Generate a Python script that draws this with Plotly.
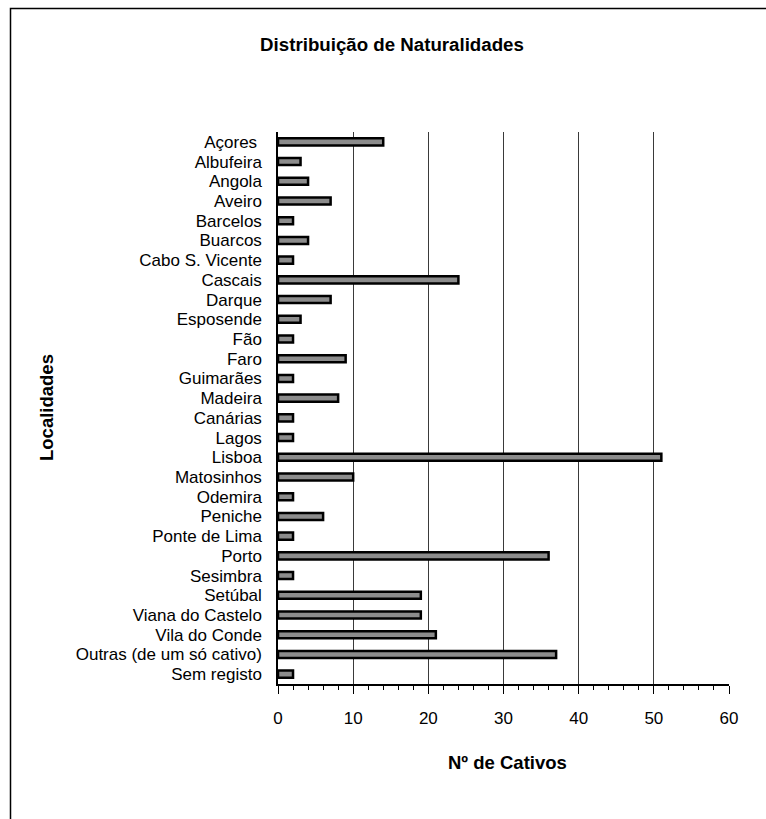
import plotly.graph_objects as go

# Naturalidades dos cativos
localidades = [
    "Açores\u00a0", "Albufeira", "Angola", "Aveiro", "Barcelos", "Buarcos",
    "Cabo S. Vicente", "Cascais", "Darque", "Esposende", "Fão", "Faro",
    "Guimarães", "Madeira", "Canárias", "Lagos", "Lisboa", "Matosinhos",
    "Odemira", "Peniche", "Ponte de Lima", "Porto", "Sesimbra", "Setúbal",
    "Viana do Castelo", "Vila do Conde", "Outras (de um só cativo)", "Sem registo",
]
cativos = [
    14, 3, 4, 7, 2, 4,
    2, 24, 7, 3, 2, 9,
    2, 8, 2, 2, 51, 10,
    2, 6, 2, 36, 2, 19,
    19, 21, 37, 2,
]
x_ticks = [0, 10, 20, 30, 40, 50, 60]

W, H = 766, 819
L, R, T, B = 278, 37, 132, 135
pw, ph = W - L - R, H - T - B

FONT = "Liberation Sans, Arial, sans-serif"

fig = go.Figure(
    go.Bar(
        x=cativos,
        y=localidades,
        orientation="h",
        width=0.36,
        marker=dict(color="#8c8c8c", line=dict(color="#000000", width=2.5)),
        hoverinfo="x+y",
    )
)

fig.update_layout(
    width=W,
    height=H,
    margin=dict(l=L, r=R, t=T, b=B, pad=0),
    paper_bgcolor="white",
    plot_bgcolor="white",
    showlegend=False,
    font=dict(family=FONT, color="#000000", size=16.5),
    title=dict(
        text="<b>Distribuição de Naturalidades</b>",
        x=392 / W,
        xanchor="center",
        xref="container",
        y=1 - 44 / H,
        yanchor="middle",
        yref="container",
        font=dict(family=FONT, size=18.7, color="#000000"),
    ),
    xaxis=dict(
        range=[0, 60],
        tickvals=x_ticks,
        ticktext=[str(v) for v in x_ticks],
        showgrid=True,
        gridcolor="#3a3a3a",
        gridwidth=1,
        zeroline=False,
        showline=True,
        linecolor="#000000",
        linewidth=1.5,
        ticks="outside",
        ticklen=8,
        tickwidth=1.2,
        tickcolor="#000000",
        ticklabelstandoff=10,
        tickfont=dict(family=FONT, size=17, color="#000000"),
        minor=dict(dtick=2, ticks="outside", ticklen=4, tickwidth=1, tickcolor="#000000", showgrid=False),
        fixedrange=True,
    ),
    yaxis=dict(
        type="category",
        categoryorder="array",
        categoryarray=localidades,
        autorange="reversed",
        tickmode="linear",
        tick0=0,
        dtick=1,
        showgrid=False,
        zeroline=False,
        showline=True,
        linecolor="#000000",
        linewidth=1.5,
        ticks="",
        ticklabelstandoff=11,
        tickfont=dict(family=FONT, size=17, color="#000000"),
        fixedrange=True,
    ),
)

# Axis titles
fig.add_annotation(
    text="<b>Nº de Cativos</b>",
    xref="paper", yref="paper",
    x=(507 - L) / pw, y=0,
    yshift=-(762 - (H - B)),
    xanchor="center", yanchor="middle",
    showarrow=False,
    font=dict(family=FONT, size=18.5, color="#000000"),
)
fig.add_annotation(
    text="<b>Localidades</b>",
    xref="paper", yref="paper",
    x=0, y=0.5,
    xshift=46 - L,
    textangle=-90,
    xanchor="center", yanchor="middle",
    showarrow=False,
    font=dict(family=FONT, size=18.5, color="#000000"),
)

# Chart-area frame
fig.add_shape(
    type="rect",
    xref="paper", yref="paper",
    x0=(10.5 - L) / pw, x1=(W + 40 - L) / pw,
    y0=-(H + 40 - (H - B)) / ph, y1=((H - B) - 8.5) / ph,
    line=dict(color="#000000", width=1.5),
    fillcolor="rgba(0,0,0,0)",
    layer="above",
)

fig.write_html("out.html")
